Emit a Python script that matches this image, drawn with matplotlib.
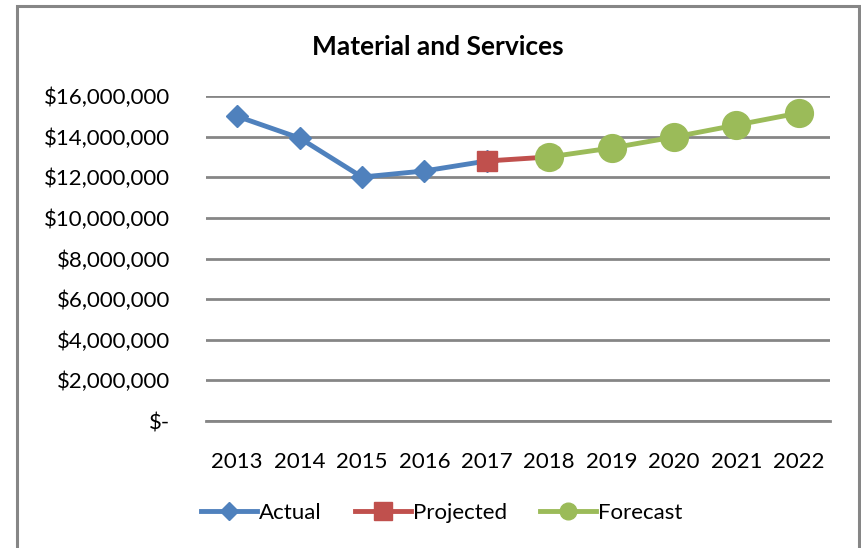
import matplotlib
matplotlib.use('Agg')
import matplotlib.pyplot as plt
import numpy as np
from matplotlib.patches import Rectangle

plt.rcParams['font.family'] = ['Lato', 'DejaVu Sans']

years = ['2013', '2014', '2015', '2016', '2017', '2018', '2019', '2020', '2021', '2022']
actual = [15000000, 13930000, 12010000, 12310000, 12800000]
projected = [12800000, 13000000]
forecast = [13000000, 13440000, 13980000, 14570000, 15160000]

x = np.arange(len(years))

fig = plt.figure(figsize=(8.62, 5.48), dpi=100)
ax = fig.add_axes([206 / 862, 1 - 421 / 548, 624 / 862, 325 / 548])

# Rahmen grafik
fig.patches.append(Rectangle((17 / 862, -0.05), (859 - 17) / 862, 1.05 - 6 / 548,
                             transform=fig.transFigure, fill=False,
                             edgecolor='#868686', linewidth=2.2))

ax.plot(x[0:5], actual, color='#4F81BD', linewidth=3.5, marker='D',
        markersize=11, label='Actual', zorder=3)
ax.plot(x[4:6], projected, color='#C0504D', linewidth=3.5, marker='s',
        markersize=14, label='Projected', zorder=4)
ax.plot(x[5:10], forecast, color='#9BBB59', linewidth=3.5, marker='o',
        markersize=20, label='Forecast', zorder=5)

ax.set_xlim(-0.5, 9.5)
ax.set_ylim(0, 16000000)
ax.set_yticks(np.arange(0, 16000001, 2000000))
ax.set_yticklabels(['$-'] + ['${:,.0f}'.format(v) for v in np.arange(2000000, 16000001, 2000000)])
ax.set_xticks(x)
ax.set_xticklabels(years)
ax.tick_params(axis='both', length=0, labelsize=16)
ax.tick_params(axis='x', pad=22)
ax.tick_params(axis='y', pad=26)
ax.grid(axis='y', color='#868686', linewidth=2)
ax.set_axisbelow(True)
for s in ['top', 'right', 'left']:
    ax.spines[s].set_visible(False)
ax.spines['bottom'].set_color('#868686')
ax.spines['bottom'].set_linewidth(2)

fig.text(438 / 862, 1 - 47 / 548, 'Material and Services', ha='center', va='center',
         fontsize=19, fontweight='bold')

handles, labels = ax.get_legend_handles_labels()
leg = fig.legend(handles, labels, loc='center', bbox_to_anchor=(442 / 862, 1 - 513 / 548),
                 ncol=3, frameon=False, fontsize=16,
                 handlelength=2.5, handletextpad=0.1, columnspacing=1.5)
for h, ms in zip(leg.legend_handles, [9, 13, 12]):
    h.set_markersize(ms)

plt.savefig('out.png', dpi=100)
